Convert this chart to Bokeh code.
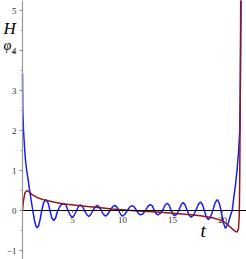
from bokeh.plotting import figure
from bokeh.models import Range1d, Label, FixedTicker, LinearAxis
from bokeh.embed import file_html
from bokeh.resources import INLINE

# blue curve
t_blue = [0.00, 0.03, 0.10, 0.20, 0.30, 0.42, 0.53, 0.70, 0.87, 1.03, 1.20, 1.33, 1.47, 1.62,
          1.78, 1.92, 2.12, 2.37, 2.58, 2.75, 2.92, 3.12, 3.32, 3.52, 3.80, 4.12, 4.35, 4.55,
          4.78, 4.98, 5.18, 5.40, 5.60, 5.80, 6.00, 6.20, 6.42, 6.63, 6.83, 7.05, 7.27, 7.47,
          7.67, 7.88, 8.10, 8.30, 8.50, 8.75, 9.00, 9.23, 9.43, 9.62, 9.82, 10.00, 10.22,
          10.48, 10.74, 10.97, 11.18, 11.40, 11.60, 11.80, 12.05, 12.30, 12.55, 12.80, 13.00,
          13.17, 13.35, 13.53, 13.75, 14.00, 14.25, 14.47, 14.67, 14.85, 15.03, 15.23, 15.43,
          15.63, 15.85, 16.07, 16.27, 16.47, 16.67, 16.87, 17.10, 17.33, 17.58, 17.80, 18.00,
          18.18, 18.38, 18.57, 18.80, 19.03, 19.26, 19.47, 19.67, 19.85, 20.07, 20.30, 20.57,
          20.80, 20.97, 21.13, 21.30, 21.47, 21.60, 21.73, 21.78, 21.82, 21.86]
h_blue = [3.42, 2.50, 2.00, 1.60, 1.25, 1.00, 0.83, 0.52, 0.25, 0.00, -0.25, -0.38, -0.43, -0.38,
          -0.20, 0.00, 0.20, 0.27, 0.18, 0.00, -0.18, -0.25, -0.18, 0.00, 0.13, 0.18, 0.13, 0.00,
          -0.12, -0.17, -0.12, 0.00, 0.10, 0.14, 0.10, 0.00, -0.10, -0.15, -0.10, 0.00, 0.09, 0.13,
          0.09, 0.00, -0.10, -0.14, -0.10, 0.00, 0.09, 0.13, 0.09, 0.00, -0.10, -0.14, -0.10,
          0.00, 0.09, 0.12, 0.09, 0.00, -0.08, -0.11, -0.08, 0.00, 0.11, 0.15, 0.11,
          0.00, -0.08, -0.11, -0.08, 0.00, 0.13, 0.18, 0.13, 0.00, -0.09, -0.13, -0.09,
          0.00, 0.14, 0.20, 0.14, 0.00, -0.12, -0.17, -0.12, 0.00, 0.15, 0.21, 0.15,
          0.00, -0.16, -0.23, -0.16, 0.00, 0.19, 0.27, 0.19, 0.00, -0.30, -0.45, -0.32,
          -0.12, 0.00, 0.33, 0.65, 1.05, 1.45, 2.00, 3.00, 4.20, 5.30]

# dark red curve
t_red = [0.00, 0.10, 0.25, 0.47, 0.70, 1.00, 1.50, 2.20, 3.10, 4.00, 5.10, 6.50, 7.80, 9.00,
         10.00, 11.50, 13.00, 14.80, 16.50, 17.80, 19.00, 19.80, 20.30, 20.80, 21.20, 21.47,
         21.60, 21.68, 21.73, 21.78, 21.82]
h_red = [0.00, 0.25, 0.45, 0.50, 0.46, 0.39, 0.32, 0.26, 0.21, 0.17, 0.14, 0.10, 0.07, 0.04,
         0.02, -0.01, -0.03, -0.06, -0.10, -0.13, -0.18, -0.24, -0.31, -0.42, -0.51, -0.54,
         -0.45, -0.10, 1.00, 3.00, 5.30]

x_ticks = [5, 10, 15, 20]
y_ticks = [-1, 0, 1, 2, 3, 4, 5]
y_minor = [-0.5, 0.5, 1.5, 2.5, 3.5, 4.5]

p = figure(width=246, height=259, x_range=Range1d(-2.2, 22.4), y_range=Range1d(-1.225, 5.25),
           output_backend="svg", toolbar_location=None, min_border=0,
           x_axis_location=None, y_axis_location=None)
p.grid.visible = False
p.outline_line_color = None
p.background_fill_color = "white"

xaxis = LinearAxis(fixed_location=0, ticker=FixedTicker(ticks=x_ticks), bounds=(0, 22.4))
xaxis.axis_line_color = "black"
xaxis.axis_line_width = 1
xaxis.major_tick_out = 2
xaxis.major_tick_in = 0
xaxis.major_tick_line_color = "#666666"
xaxis.minor_tick_line_color = None
xaxis.major_label_standoff = 4
xaxis.major_label_text_font = "Liberation Serif"
xaxis.major_label_text_font_size = "9px"
xaxis.major_label_text_color = "#333333"
p.add_layout(xaxis, "below")

yaxis = LinearAxis(fixed_location=0, ticker=FixedTicker(ticks=y_ticks, minor_ticks=y_minor))
yaxis.axis_line_color = "#999999"
yaxis.axis_line_width = 1.2
yaxis.major_tick_out = 3
yaxis.major_tick_in = 0
yaxis.minor_tick_out = 2
yaxis.minor_tick_in = 0
yaxis.major_tick_line_color = "#888888"
yaxis.minor_tick_line_color = "#aaaaaa"
yaxis.major_label_standoff = 3
yaxis.major_label_text_font = "Liberation Serif"
yaxis.major_label_text_font_size = "9px"
yaxis.major_label_text_color = "#333333"
p.add_layout(yaxis, "left")

p.line(t_blue, h_blue, line_color="#1a1aff", line_width=1.5)
p.line(t_red, h_red, line_color="#8b1a1a", line_width=1.5)

p.add_layout(Label(x=3, y=222, x_units="screen", y_units="screen", text="H",
                   text_font="Liberation Serif", text_font_style="italic",
                   text_font_size="17px", text_color="black"))
p.add_layout(Label(x=3, y=207, x_units="screen", y_units="screen", text="φ",
                   text_font="Liberation Serif", text_font_style="italic",
                   text_font_size="14px", text_color="black"))
p.add_layout(Label(x=11, y=206, x_units="screen", y_units="screen", text="4",
                   text_font="Liberation Serif",
                   text_font_size="7px", text_color="black"))
p.add_layout(Label(x=200, y=19, x_units="screen", y_units="screen", text="t",
                   text_font="Liberation Serif", text_font_style="italic",
                   text_font_size="19px", text_color="black"))

open("out.html", "w").write(file_html(p, INLINE))
